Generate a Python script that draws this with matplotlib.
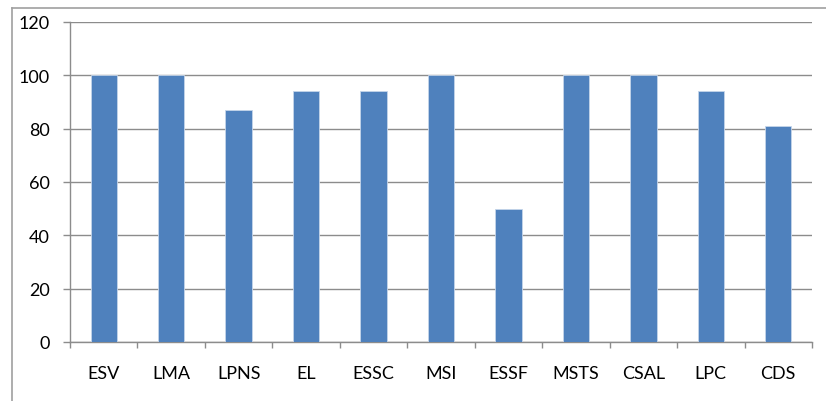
import matplotlib
matplotlib.use("Agg")
import matplotlib.pyplot as plt
from matplotlib.lines import Line2D

categories = ["ESV", "LMA", "LPNS", "EL", "ESSC", "MSI", "ESSF", "MSTS", "CSAL", "LPC", "CDS"]
values = [100, 100, 87, 94, 94, 100, 50, 100, 100, 94, 81]
yticks = [0, 20, 40, 60, 80, 100, 120]

W, H = 826, 402
fig = plt.figure(figsize=(W / 100, H / 100), dpi=100)
plt.rcParams['font.family'] = ['Lato', 'DejaVu Sans']

x0, x1 = 70, 812
y_top, y_bot = 23, 343
ax = fig.add_axes([x0 / W, 1 - y_bot / H, (x1 - x0) / W, (y_bot - y_top) / H])

grid_col = "#8c8c8c"
ax.bar(range(len(categories)), values, width=0.39, color="#4F81BD", edgecolor="#c5d5ea", linewidth=0.6, zorder=3)
ax.set_xlim(-0.5, len(categories) - 0.5)
ax.set_ylim(0, 120)
ax.set_yticks(yticks)
ax.yaxis.grid(True, color=grid_col, linewidth=1.0, zorder=0)
ax.set_axisbelow(True)

ax.set_xticks([i - 0.5 for i in range(len(categories) + 1)], minor=False)
ax.set_xticklabels([])
ax.set_xticks(range(len(categories)), minor=True)
ax.set_xticklabels(categories, minor=True)
ax.tick_params(axis='x', which='major', length=4.5, color=grid_col, width=1)
ax.tick_params(axis='x', which='minor', length=0, pad=16.5, labelsize=13, labelcolor="#000000")
ax.tick_params(axis='y', length=5, color=grid_col, width=1, labelsize=13, pad=9.4)

for s in ["top", "right"]:
    ax.spines[s].set_visible(False)
for s in ["left", "bottom"]:
    ax.spines[s].set_color(grid_col)
    ax.spines[s].set_linewidth(1.0)

# outer chart border (only left and top visible in crop)
fig.add_artist(Line2D([12 / W, 12 / W], [0, 1 - 9 / H], color="#a0a0a0", linewidth=1.2, transform=fig.transFigure))
fig.add_artist(Line2D([12 / W, 1], [1 - 9 / H, 1 - 9 / H], color="#a0a0a0", linewidth=1.2, transform=fig.transFigure))

fig.savefig("out.png", dpi=100)
